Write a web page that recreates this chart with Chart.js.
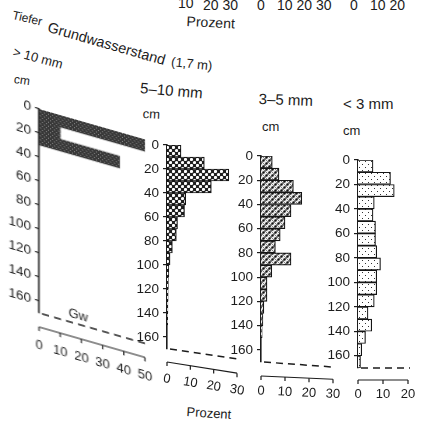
<!DOCTYPE html>
<html><head><meta charset="utf-8">
<script src="https://cdn.jsdelivr.net/npm/chart.js@4.4.1/dist/chart.umd.min.js"></script>
<style>
html,body{margin:0;padding:0;background:#fff;}
body{width:422px;height:428px;position:relative;overflow:hidden;font-family:"Liberation Sans",Arial,sans-serif;color:#1c1c1c;}
.t{position:absolute;white-space:nowrap;transform-origin:0 0;line-height:1;}
canvas{position:absolute;}
</style></head><body>
<div class="t" style="left:178px;top:-4px;font-size:14px;">10</div>
<div class="t" style="left:203px;top:-2px;font-size:14px;">20 30</div>
<div class="t" style="left:257px;top:-2px;font-size:14px;">0</div>
<div class="t" style="left:277px;top:-2px;font-size:14px;">10 20 30</div>
<div class="t" style="left:350px;top:-2px;font-size:14px;">0</div>
<div class="t" style="left:370px;top:-2px;font-size:14px;">10 20</div>
<div class="t" style="left:187px;top:14px;font-size:14px;transform:rotate(3deg);">Prozent</div>
<div class="t" style="left:14px;top:9px;font-size:12px;transform:rotate(13deg);">Tiefer</div>
<div class="t" style="left:50px;top:20px;font-size:14.5px;transform:rotate(16deg);">Grundwasserstand</div>
<div class="t" style="left:172px;top:55px;font-size:13px;transform:rotate(6deg);">(1,7 m)</div>
<div class="t" style="left:15px;top:45px;font-size:13px;transform:rotate(15deg);">&gt; 10 mm</div>
<div class="t" style="left:15px;top:73px;font-size:12px;transform:rotate(8deg);">cm</div>
<div class="t" style="left:141px;top:80px;font-size:15px;transform:rotate(5deg);">5–10 mm</div>
<div class="t" style="left:143px;top:107px;font-size:13px;transform:rotate(3deg);">cm</div>
<div class="t" style="left:259px;top:91px;font-size:15px;transform:rotate(2deg);">3–5 mm</div>
<div class="t" style="left:262px;top:120px;font-size:13px;">cm</div>
<div class="t" style="left:343px;top:96px;font-size:15px;">&lt; 3 mm</div>
<div class="t" style="left:343px;top:124px;font-size:13px;">cm</div>
<div class="t" style="left:187px;top:405px;font-size:13px;transform:rotate(4deg);">Prozent</div>

<canvas id="c1" width="165" height="300" style="left:0;top:95px;transform:skewY(16deg);transform-origin:39px 14px;"></canvas>
<canvas id="c2" width="132" height="290" style="left:118px;top:128px;"></canvas>
<canvas id="c3" width="130" height="282" style="left:214px;top:138px;"></canvas>
<canvas id="c4" width="112" height="280" style="left:310px;top:142px;"></canvas>
<script>
// depth classes (cm, top of each 10 cm class)
const depthFrom = [0,10,20,30,40,50,60,70,80,90,100,110,120,130,140,150,160];
const classSize = 10;
const gwDepth = 170;
const depthTicks = [0,20,40,60,80,100,120,140,160];
// percent of each grain size per depth class
const pctOver10mm = [50, 10, 38];
const pct5to10mm = [6, 16, 26.5, 19, 8, 7.5, 4.5, 4, 2.3, 1.3, 0.8, 0.6, 0.5, 0.4, 0.3];
const pct3to5mm  = [4.7, 7.5, 13.5, 17, 12.5, 10, 8, 6, 12.5, 4.5, 2.5, 2.5, 1.2, 0.8, 0.5];
const pctUnder3mm = [6, 13, 14.5, 6.5, 6, 7, 7, 7.5, 9, 7.5, 7.5, 6.5, 4, 5.5, 3, 1.5, 1];
const xTicks1 = [0,10,20,30,40,50];
const xTicks2 = [0,10,20,30];
const xTicks3 = [0,10,20,30];
const xTicks4 = [0,10,20];
const gwLabel = 'Gw';

const FONT = '"Liberation Sans", Arial, sans-serif';
const INK = '#1c1c1c';

function pat(size, bg, draw){
  const c = document.createElement('canvas'); c.width = c.height = size;
  const g = c.getContext('2d'); g.fillStyle = bg; g.fillRect(0,0,size,size); draw(g);
  return g.createPattern(c, 'repeat');
}
const pat1 = pat(4, '#383838', g=>{ g.fillStyle='#8e8e8e'; g.fillRect(0,0,1,1); g.fillRect(2,2,1,1); });
const pat2 = pat(6, '#1e1e1e', g=>{ g.fillStyle='#fff'; [[1.5,1.5],[4.5,4.5]].forEach(([a,b])=>{g.beginPath();g.arc(a,b,1.6,0,Math.PI*2);g.fill();}); });
const pat3 = pat(6, '#eeeeee', g=>{ g.strokeStyle='#555'; g.lineWidth=0.7; g.beginPath(); g.moveTo(0,0); g.lineTo(6,6); g.moveTo(6,0); g.lineTo(0,6); g.stroke();
  g.fillStyle='#111'; [[1.5,4.5],[4.5,1.5]].forEach(([a,b])=>{g.beginPath();g.arc(a,b,1.2,0,Math.PI*2);g.fill();}); });
const pat4 = pat(6, '#ffffff', g=>{ g.fillStyle='#333'; g.fillRect(1,1,1,1); g.fillRect(4,4,1,1); });

function axisPlugin(cfg, xTicks, extra){
  return { id:'profAxis', afterDraw(chart){
    const {ctx, scales:{x, y}} = chart;
    const x0 = x.getPixelForValue(0), x1 = x.getPixelForValue(x.max);
    const yb = y.getPixelForValue(gwDepth);
    ctx.save();
    ctx.strokeStyle = INK; ctx.fillStyle = INK;
    // groundwater dashed line
    ctx.lineWidth = 1.5; ctx.setLineDash([7,5]);
    const xe = x1 + cfg.dashExtra;
    ctx.beginPath(); ctx.moveTo(x0 + 3, yb); ctx.lineTo(xe, yb + cfg.dashSlope * (xe - x0)); ctx.stroke();
    ctx.setLineDash([]);
    // percent axis
    const ya = yb + cfg.gap;
    const at = v => { const px = x.getPixelForValue(v); return [px, ya + cfg.slope * (px - x0)]; };
    ctx.lineWidth = 1.2;
    ctx.beginPath(); let p = at(0); ctx.moveTo(p[0], p[1]); p = at(x.max); ctx.lineTo(p[0], p[1]); ctx.stroke();
    ctx.font = '13px ' + FONT; ctx.textAlign = 'center'; ctx.textBaseline = 'middle';
    xTicks.forEach(v => {
      const [px, py] = at(v);
      ctx.beginPath(); ctx.moveTo(px, py); ctx.lineTo(px, py + 4); ctx.stroke();
      ctx.save(); ctx.translate(px, py + cfg.labelOff); ctx.rotate(Math.atan(cfg.slope)); ctx.fillText(String(v), 0, 0); ctx.restore();
    });
    if (extra) {
      ctx.font = '13px ' + FONT;
      ctx.fillText(extra.text, x.getPixelForValue(extra.xv), yb + extra.dy);
    }
    ctx.restore();
  }};
}

function profileChart(id, values, xMax, xTicks, fill, borderW, cfg, extra){
  const pts = [];
  values.forEach((v, i) => { if (v > 0) pts.push({x: v, y: depthFrom[i] + classSize / 2}); });
  return new Chart(document.getElementById(id), {
    type: 'bar',
    data: { datasets: [{ data: pts, backgroundColor: fill, borderColor: '#151515', borderWidth: borderW,
      borderSkipped: 'start', barPercentage: 1, categoryPercentage: 1 }] },
    options: {
      indexAxis: 'y', responsive: false, animation: false, devicePixelRatio: 1,
      layout: { padding: cfg.pad },
      plugins: { legend: { display: false }, tooltip: { enabled: false } },
      scales: {
        x: { type: 'linear', min: 0, max: xMax, display: false },
        y: { type: 'linear', min: 0, max: gwDepth, reverse: true, position: 'left', offset: false,
          afterFit: s => { s.width = cfg.axisX; },
          afterBuildTicks: s => { s.ticks = depthTicks.map(v => ({value: v})); },
          ticks: { font: { size: 13.5, family: FONT }, color: INK, padding: 4, autoSkip: false },
          grid: { offset: false, drawOnChartArea: false, drawTicks: true, tickLength: 4, color: INK, lineWidth: 1.2 },
          border: { display: true, color: INK, width: 1.6 } }
      }
    },
    plugins: [axisPlugin(cfg, xTicks, extra)]
  });
}

profileChart('c1', pctOver10mm, 50, xTicks1, pat1, 0,
  { pad: {left:0, top:14, right:20, bottom:82}, axisX: 39, gap: 14, slope: 0, dashSlope: 0, dashExtra: 0, labelOff: 18 },
  { text: gwLabel, xv: 18.5, dy: -9 });
profileChart('c2', pct5to10mm, 30, xTicks2, pat2, 1.2,
  { pad: {left:0, top:17, right:13, bottom:69}, axisX: 49, gap: 13, slope: 0.16, dashSlope: 0.14, dashExtra: 0, labelOff: 17 });
profileChart('c3', pct3to5mm, 30, xTicks3, pat3, 1.2,
  { pad: {left:0, top:18, right:11, bottom:58}, axisX: 47, gap: 14, slope: 0.045, dashSlope: 0.07, dashExtra: 0, labelOff: 15 });
profileChart('c4', pctUnder3mm, 20, xTicks4, pat4, 1.2,
  { pad: {left:0, top:18, right:14, bottom:54}, axisX: 48, gap: 12, slope: 0, dashSlope: 0, dashExtra: 2, labelOff: 14 });
</script>
</body></html>
